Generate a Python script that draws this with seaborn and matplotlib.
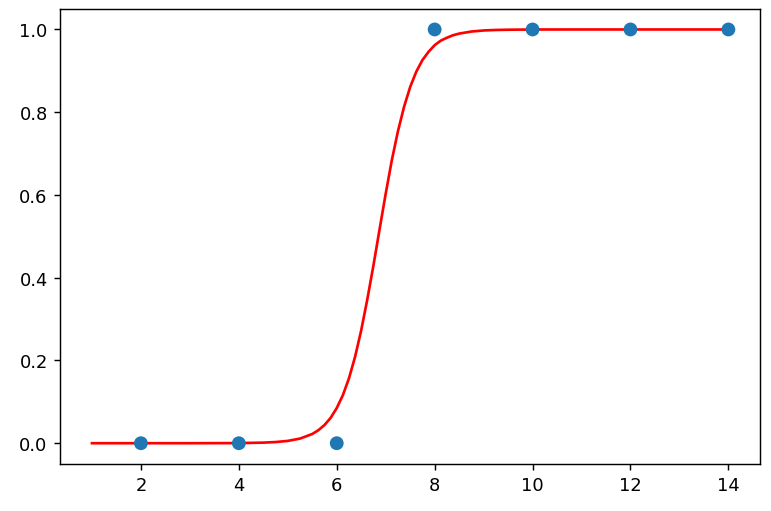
import matplotlib
matplotlib.use("Agg")
import matplotlib.pyplot as plt
import seaborn as sns
import pandas as pd

# observed points
obs_x = [2, 4, 6, 8, 10, 12, 14]
obs_y = [0, 0, 0, 1, 1, 1, 1]

# fitted curve, values
curve_x = [1.0, 2.0, 3.0, 4.0, 4.5, 4.75, 5.0, 5.25, 5.5, 5.625, 5.75, 5.875,
           6.0, 6.125, 6.25, 6.375, 6.5, 6.625, 6.75, 6.875, 7.0, 7.125, 7.25,
           7.375, 7.5, 7.625, 7.75, 7.875, 8.0, 8.125, 8.25, 8.375, 8.5, 8.75,
           9.0, 9.25, 9.5, 10.0, 11.0, 12.0, 13.0, 14.0]
curve_y = [0.0, 0.0, 0.0, 0.0003, 0.0014, 0.0028, 0.0056, 0.0112, 0.0223, 0.0314,
           0.044, 0.0612, 0.085, 0.116, 0.157, 0.209, 0.273, 0.348, 0.430, 0.517,
           0.603, 0.684, 0.754, 0.813, 0.861, 0.898, 0.926, 0.946, 0.962, 0.973,
           0.980, 0.986, 0.990, 0.995, 0.9976, 0.9988, 0.9994, 0.9999, 1.0, 1.0,
           1.0, 1.0]

obs = pd.DataFrame({"x": obs_x, "y": obs_y})
curve = pd.DataFrame({"x": curve_x, "y": curve_y})

fig = plt.figure(figsize=(6.0, 3.984), dpi=128.5)
ax = fig.add_axes([0.078, 0.092, 0.908, 0.889])

sns.lineplot(data=curve, x="x", y="y", color="red", linewidth=1.5, ax=ax, zorder=2)
sns.scatterplot(data=obs, x="x", y="y", color="#1f77b4", s=60, edgecolor="none",
                ax=ax, zorder=3)

ax.set_xlim(0.35, 14.65)
ax.set_ylim(-0.05, 1.05)
ax.set_xticks([2, 4, 6, 8, 10, 12, 14])
ax.set_yticks([0.0, 0.2, 0.4, 0.6, 0.8, 1.0])
ax.set_yticklabels(["0.0", "0.2", "0.4", "0.6", "0.8", "1.0"])
ax.set_xlabel("")
ax.set_ylabel("")
ax.tick_params(labelsize=10)

fig.savefig("out.png", dpi=128.5)
